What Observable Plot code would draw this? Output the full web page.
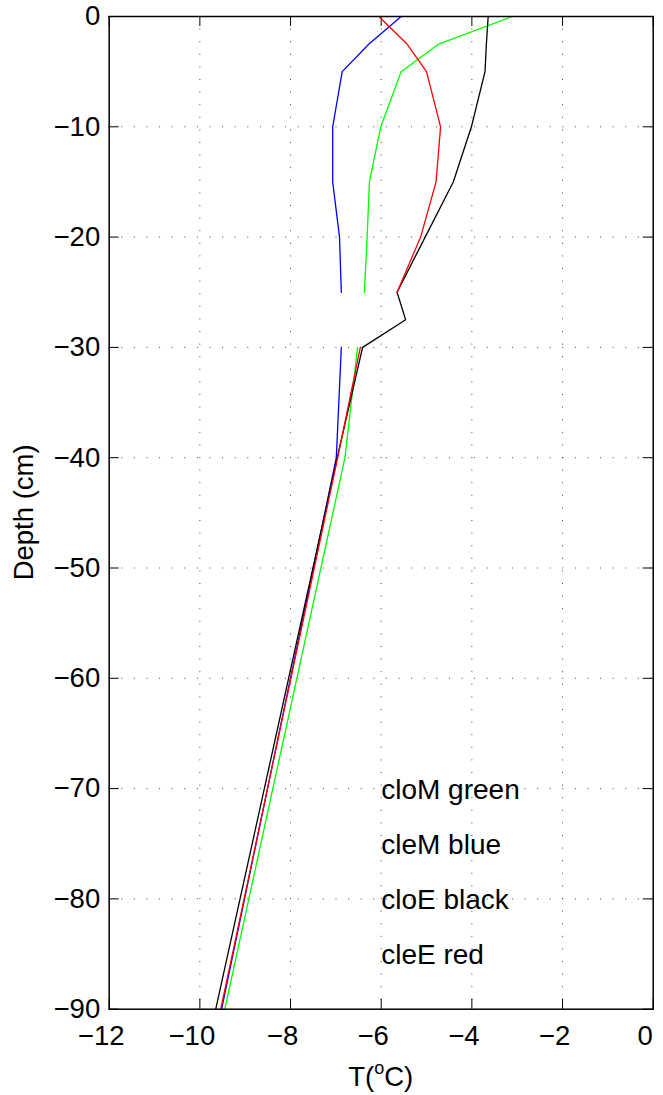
<!DOCTYPE html>
<html>
<head>
<meta charset="utf-8">
<script src="https://cdn.jsdelivr.net/npm/d3@7"></script>
<script src="https://cdn.jsdelivr.net/npm/@observablehq/plot@0.6"></script>
<style>
  body { margin: 0; background: #fff; }
  svg { display: block; }
</style>
</head>
<body>
<div id="chart"></div>
<script>
// Soil temperature profiles: depth (cm) vs temperature (°C)
const depths = [0, -2.5, -5, -10, -15, -20, -25, -27.5, -30, -40, -90];
// NaN marks a missing reading (gap in the profile)
const cloM = [-3.11, -4.73, -5.56, -6.01, -6.26, -6.31, -6.37, NaN, -6.52, -6.80, -9.45];
const cleM = [-5.56, -6.27, -6.86, -7.07, -7.07, -6.92, -6.88, NaN, -6.88, -6.99, -9.52];
const cloE = [-3.64, -3.68, -3.71, -4.01, -4.41, -5.03, -5.65, -5.46, -6.41, -6.97, -9.65];
const cleE = [-6.05, -5.43, -5.00, -4.69, -4.79, -5.13, -5.65, NaN, -6.46, -6.96, -9.54];

const seriesNames = ["cloM", "cleM", "cloE", "cleE"];
const seriesValues = [cloM, cleM, cloE, cleE];
const seriesColors = ["#00ff00", "#0000ff", "#000000", "#ff0000"];

const xTicks = [-12, -10, -8, -6, -4, -2, 0];
const yTicks = [-90, -80, -70, -60, -50, -40, -30, -20, -10, 0];

const noteTexts = ["cloM green", "cleM blue", "cloE black", "cleE red"];
const noteDepths = [-70, -75, -80, -85];
const noteT = -6;

// long-format table for the line mark
const rows = [];
seriesNames.forEach((name, i) => {
  depths.forEach((d, j) => rows.push({series: name, depth: d, T: seriesValues[i][j]}));
});
const notes = noteTexts.map((t, i) => ({text: t, depth: noteDepths[i], T: noteT}));

const W = 663, H = 1095;
const mTop = 16, mBottom = 86.3, mLeft = 108.7, mRight = 10.3;
const plotW = W - mLeft - mRight, plotH = H - mTop - mBottom;
const tickLen = 10;
const fmt = d => d < 0 ? "\u2212" + Math.abs(d) : String(d);
const gridStyle = {stroke: "#444", strokeOpacity: 1, strokeWidth: 1, strokeDasharray: "1,11.6"};

const chart = Plot.plot({
  width: W,
  height: H,
  marginTop: mTop,
  marginBottom: mBottom,
  marginLeft: mLeft,
  marginRight: mRight,
  style: {fontFamily: "'Liberation Sans', Arial, sans-serif", fontSize: "27.5px", color: "black", background: "white"},
  x: {domain: [-12, 0], label: null},
  y: {domain: [-90, 0], label: null},
  color: {domain: seriesNames, range: seriesColors},
  marks: [
    // dotted grid
    Plot.ruleX(xTicks.slice(1, -1), gridStyle),
    Plot.ruleY(yTicks.slice(1, -1), gridStyle),
    // inward ticks on all four sides
    Plot.ruleX(xTicks, {stroke: "black", insetTop: plotH - tickLen}),
    Plot.ruleX(xTicks, {stroke: "black", insetBottom: plotH - tickLen}),
    Plot.ruleY(yTicks, {stroke: "black", insetRight: plotW - tickLen}),
    Plot.ruleY(yTicks, {stroke: "black", insetLeft: plotW - tickLen}),
    Plot.axisX({ticks: xTicks, tickSize: 0, tickPadding: 16, dx: -8, tickFormat: fmt, label: null}),
    Plot.axisY({ticks: yTicks, tickSize: 0, tickPadding: 9, tickFormat: fmt, label: null}),
    // temperature profiles
    Plot.line(rows, {x: "T", y: "depth", z: "series", stroke: "series", strokeWidth: 1.3}),
    // series notes
    Plot.text(notes, {x: "T", y: "depth", text: "text", textAnchor: "start", lineAnchor: "middle", fill: "black", fontSize: 28, dy: 1}),
    Plot.frame({stroke: "black", strokeWidth: 1.5})
  ]
});

const svg = d3.select(chart);
// x-axis title with superscript degree "o"
const xt = svg.append("text")
  .attr("x", mLeft + plotW / 2)
  .attr("y", 1086)
  .attr("text-anchor", "middle")
  .attr("fill", "black")
  .attr("font-size", 27.5);
xt.append("tspan").text("T(");
xt.append("tspan").attr("font-size", 18).attr("dy", -12).text("o");
xt.append("tspan").attr("dy", 12).text("C)");

// y-axis title
svg.append("text")
  .attr("transform", `translate(33.3,${mTop + plotH / 2}) rotate(-90)`)
  .attr("text-anchor", "middle")
  .attr("fill", "black")
  .attr("font-size", 27.5)
  .text("Depth (cm)");

document.getElementById("chart").appendChild(chart);
</script>
</body>
</html>
